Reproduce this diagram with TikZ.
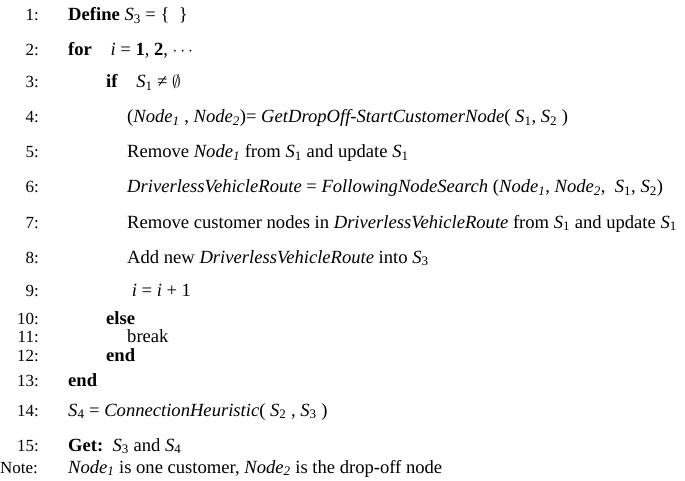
\documentclass[tikz,border=0pt]{standalone}
\usepackage{fontspec}
\setmainfont{Liberation Serif}
\newcommand{\Sx}[1]{\textit{S}\textsubscript{#1}}
\newcommand{\Nd}[1]{\textit{Node\textsubscript{#1}}}
\newcommand{\algline}[4]{\node[num] (n#1) at (39,#2) {#1:}; \node[txt] (t#1) at (#3,#2) {#4};}
\begin{document}
\begin{tikzpicture}[x=1pt,y=-1pt,
  num/.style={anchor=base east,inner sep=0pt,font=\fontsize{17}{19}\selectfont},
  txt/.style={anchor=base west,inner sep=0pt,font=\fontsize{18.6}{20}\selectfont}]
\useasboundingbox (0,0) rectangle (685,481);
\algline{1}{21}{68}{\textbf{Define} \Sx{3} = \{\ \ \}}
\algline{2}{56}{68}{\textbf{for}\quad \textit{i} = \textbf{1}, \textbf{2}, $\cdots$}
\algline{3}{88}{106}{\textbf{if}\quad \Sx{1} ≠ $\emptyset$}
\algline{4}{123}{127}{(\Nd{1} , \Nd{2})= \textit{GetDropOff-StartCustomerNode}( \Sx{1}, \Sx{2} )}
\algline{5}{158}{127}{Remove \Nd{1} from \Sx{1} and update \Sx{1}}
\algline{6}{193}{127}{\textit{DriverlessVehicleRoute} = \textit{FollowingNodeSearch} (\Nd{1}, \Nd{2},\ \ \Sx{1}, \Sx{2})}
\algline{7}{228}{127}{Remove customer nodes in \textit{DriverlessVehicleRoute} from \Sx{1} and update \Sx{1}}
\algline{8}{263}{127}{Add new \textit{DriverlessVehicleRoute} into \Sx{3}}
\algline{9}{296}{127}{\ \textit{i} = \textit{i} + 1}
\algline{10}{324}{106}{\textbf{else}}
\algline{11}{342}{127}{break}
\algline{12}{361}{106}{\textbf{end}}
\algline{13}{386}{68}{\textbf{end}}
\algline{14}{416}{68}{\Sx{4} = \textit{ConnectionHeuristic}( \Sx{2} , \Sx{3} )}
\algline{15}{451}{68}{\textbf{Get:}\ \ \Sx{3} and \Sx{4}}
\node[num,anchor=base west] (note) at (0,473) {Note:};
\node[txt] (notet) at (68,473) {\Nd{1} is one customer, \Nd{2} is the drop-off node};
\end{tikzpicture}
\end{document}
